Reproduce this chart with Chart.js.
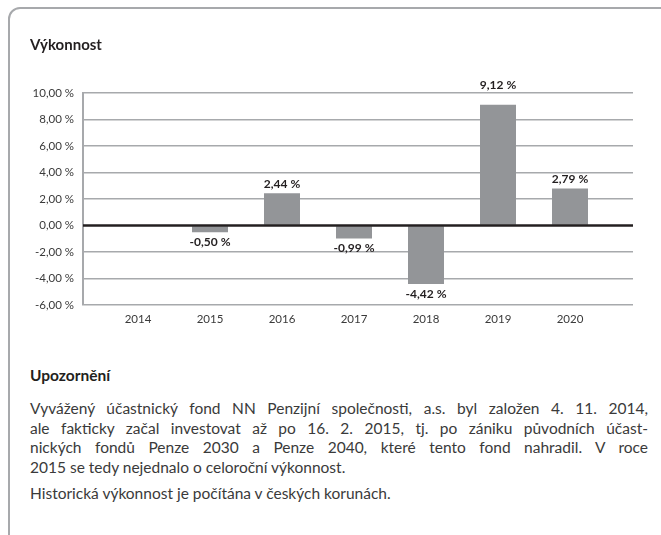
<!DOCTYPE html>
<html lang="cs">
<head>
    <meta charset="UTF-8">
    <title>Výkonnost</title>
    <script src="https://cdn.jsdelivr.net/npm/chart.js"></script>
    <style>
        body {
            margin: 0;
            width: 661px;
            height: 535px;
            overflow: hidden;
            background: #ffffff;
            font-family: 'Lato', sans-serif;
            color: #333;
            position: relative;
        }

        .frame {
            position: absolute;
            left: 8px;
            top: 7px;
            width: 700px;
            height: 600px;
            border: 2px solid #a7a9ac;
            border-radius: 12px;
        }

        .chart-box {
            position: absolute;
            left: 0;
            top: 0;
            width: 661px;
            height: 340px;
        }

        h1 {
            position: absolute;
            left: 30px;
            top: 35px;
            margin: 0;
            font-size: 15px;
            line-height: 18px;
            font-weight: 700;
            color: #231f20;
        }

        .note {
            position: absolute;
            left: 30px;
            width: 618px;
            font-size: 15.5px;
            line-height: 19.5px;
            color: #3a3a3a;
        }

        .note h2 {
            margin: 0;
            font-size: 15.5px;
            font-weight: 700;
            color: #231f20;
        }

        .note .line {
            white-space: nowrap;
        }

        .note .just {
            text-align: justify;
            text-align-last: justify;
        }
    </style>
</head>
<body>
    <div class="frame"></div>
    <div class="chart-box">
        <canvas id="perfChart"></canvas>
    </div>
    <h1>Výkonnost</h1>

    <div class="note" style="top: 366px;">
        <h2>Upozornění</h2>
    </div>
    <div class="note" style="top: 399px;">
        <div class="line just">Vyvážený účastnický fond NN Penzijní společnosti, a.s. byl založen 4. 11. 2014,</div>
        <div class="line just">ale fakticky začal investovat až po 16. 2. 2015, tj. po zániku původních účast-</div>
        <div class="line just">nických fondů Penze 2030 a Penze 2040, které tento fond nahradil. V roce</div>
        <div class="line">2015 se tedy nejednalo o celoroční výkonnost.</div>
    </div>
    <div class="note" style="top: 484px;">
        <div class="line">Historická výkonnost je počítána v českých korunách.</div>
    </div>

    <script>
        // yearly performance in %, 2014 has no value (fund started late)
        const years = [2014, 2015, 2016, 2017, 2018, 2019, 2020];
        const yearLabels = ['2014', '2015', '2016', '2017', '2018', '2019', '2020'];
        const performance = [null, -0.50, 2.44, -0.99, -4.42, 9.12, 2.79];
        const yTicks = [-6, -4, -2, 0, 2, 4, 6, 8, 10];

        const fmt = v => v.toFixed(2).replace('.', ',') + ' %';

        const points = years
            .map((yr, i) => ({ x: yr, y: performance[i] }))
            .filter(p => p.y !== null);

        // bold value labels above / below each bar
        const valueLabels = {
            id: 'valueLabels',
            afterDatasetsDraw(chart) {
                const { ctx, chartArea } = chart;
                const meta = chart.getDatasetMeta(0);
                ctx.save();
                ctx.font = 'bold 12px Lato, sans-serif';
                ctx.fillStyle = '#231f20';
                ctx.textAlign = 'center';
                ctx.textBaseline = 'middle';
                meta.data.forEach((bar, i) => {
                    const v = points[i].y;
                    let y;
                    if (v >= 0) {
                        y = bar.y - 9;
                        if (y - 6 < chartArea.top + 2) y = chartArea.top - 8;
                    } else {
                        y = bar.y + 10;
                    }
                    ctx.fillText(fmt(v), bar.x, y);
                });
                ctx.restore();
            }
        };

        // dark zero line over the bars
        const zeroLine = {
            id: 'zeroLine',
            afterDatasetsDraw(chart) {
                const { ctx, chartArea, scales } = chart;
                const y0 = scales.y.getPixelForValue(0);
                ctx.save();
                ctx.strokeStyle = '#231f20';
                ctx.lineWidth = 2.5;
                ctx.beginPath();
                ctx.moveTo(chartArea.left, y0);
                ctx.lineTo(chartArea.right, y0);
                ctx.stroke();
                ctx.restore();
            }
        };

        const ctx = document.getElementById('perfChart').getContext('2d');
        new Chart(ctx, {
            type: 'bar',
            data: {
                datasets: [{
                    data: points,
                    backgroundColor: '#939598',
                    borderWidth: 0,
                    categoryPercentage: 1,
                    barPercentage: 0.5
                }]
            },
            options: {
                responsive: true,
                maintainAspectRatio: false,
                animation: false,
                layout: {
                    padding: { top: 93, right: 28, left: 8, bottom: 0 }
                },
                plugins: {
                    legend: { display: false },
                    tooltip: { enabled: false }
                },
                scales: {
                    x: {
                        type: 'linear',
                        offset: false,
                        min: 2013.236,
                        max: 2020.875,
                        grid: { display: false, drawTicks: false },
                        border: { display: false },
                        afterFit: s => { s.height = 35; },
                        ticks: {
                            stepSize: 1,
                            includeBounds: false,
                            padding: 7,
                            color: '#3a3a3a',
                            font: { family: 'Lato', size: 11.5 },
                            callback: v => yearLabels[years.indexOf(v)]
                        }
                    },
                    y: {
                        min: -6,
                        max: 10,
                        afterFit: s => { s.width = 75; },
                        afterBuildTicks: s => { s.ticks = yTicks.map(v => ({ value: v })); },
                        border: { display: true, color: '#a7a9ac', width: 2 },
                        grid: {
                            drawTicks: false,
                            color: c => c.tick && c.tick.value === 0 ? 'rgba(0,0,0,0)' : '#a7a9ac',
                            lineWidth: 1.5
                        },
                        ticks: {
                            padding: 9,
                            color: '#3a3a3a',
                            font: { family: 'Lato', size: 11.5 },
                            callback: v => fmt(v)
                        }
                    }
                }
            },
            plugins: [valueLabels, zeroLine]
        });
    </script>
</body>
</html>
